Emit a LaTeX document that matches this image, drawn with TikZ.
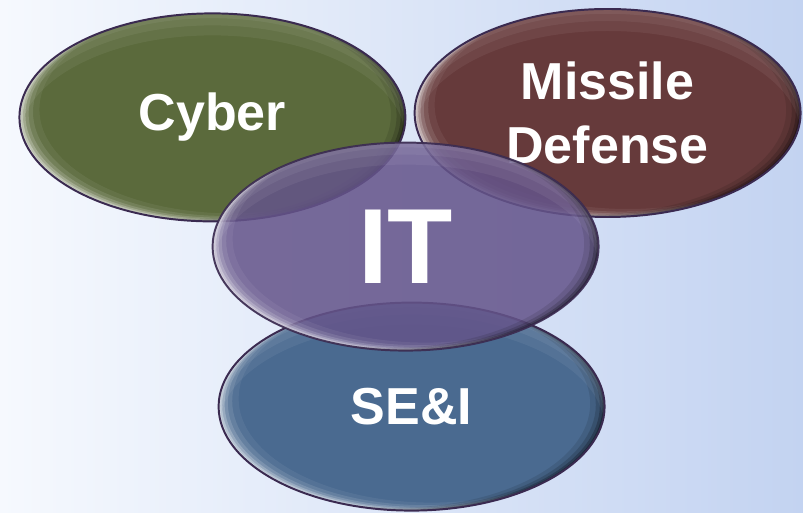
\documentclass[tikz,border=0pt]{standalone}
\usepackage{fontspec}
\setmainfont{Liberation Sans}
\usepackage{tikz}
\usetikzlibrary{shapes.geometric}
\definecolor{bgleft}{HTML}{F6F9FE}
\definecolor{bgright}{HTML}{C3D3F1}
\definecolor{rimcol}{HTML}{3A2A50}
\definecolor{cybercol}{HTML}{5B6A3C}
\definecolor{missilecol}{HTML}{663A3B}
\definecolor{itcol}{HTML}{64548A}
\definecolor{seicol}{HTML}{4A6A90}
\newcommand{\labelfont}{\fontsize{37}{46}\selectfont\bfseries}
\tikzset{
  % one domain bubble, flat fill plus rim glow
  bubble/.style={ellipse, fill=#1, draw=rimcol, line width=1.4pt,
                 minimum width=9.65cm, minimum height=5.2cm, inner sep=0pt,
                 text=white, font=\labelfont, align=center, glow},
  % bright crescent lower left, dark crescent right, soft top gloss
  glow/.style={path picture={
    \foreach \s/\o in {0.04/0.35,0.09/0.30,0.15/0.22,0.23/0.15,0.34/0.10,0.50/0.06}
      \fill[white, opacity=\o, even odd rule]
        (path picture bounding box.center) ellipse (4.825cm and 2.6cm)
        ([xshift=\s cm, yshift=0.4*\s cm]path picture bounding box.center)
          ellipse (4.825cm and 2.6cm);
    \foreach \s/\o in {0.05/0.30,0.12/0.22,0.22/0.15,0.36/0.10}
      \fill[black, opacity=\o, even odd rule]
        (path picture bounding box.center) ellipse (4.825cm and 2.6cm)
        ([xshift=-\s cm, yshift=0.2*\s cm]path picture bounding box.center)
          ellipse (4.825cm and 2.6cm);
    \foreach \s in {0.12,0.3,0.55}
      \fill[white, opacity=0.06, even odd rule]
        (path picture bounding box.center) ellipse (4.825cm and 2.6cm)
        ([yshift=-\s cm]path picture bounding box.center)
          ellipse (4.825cm and 2.6cm);
  }},
  % see-through bubble on top
  glass/.style={fill opacity=0.86, draw opacity=0.9, text opacity=1},
}
\begin{document}
\begin{tikzpicture}
  % backdrop
  \shade[left color=bgleft, right color=bgright]
    (0,0) rectangle (20.075,12.825);
  \useasboundingbox (0,0) rectangle (20.075,12.825);
  % outer bubbles
  \node[bubble=cybercol]   (cyber)   at ( 5.31, 9.89) {Cyber};
  \node[bubble=missilecol] (missile) at (15.19,10.00) {Missile\\Defense};
  \node[bubble=seicol]     (sei)     at (10.29, 2.66) {SE\&I};
  % centre bubble
  \node[bubble=itcol, glass, font=\fontsize{76}{76}\selectfont\bfseries]
    (it) at (10.14, 6.66) {IT};
\end{tikzpicture}
\end{document}
